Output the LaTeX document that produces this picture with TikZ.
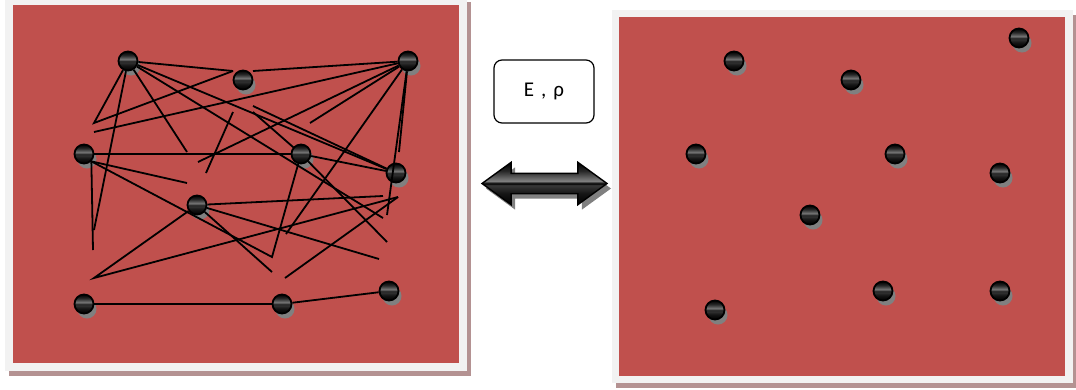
\documentclass[tikz,border=0pt]{standalone}
\usepackage{fontspec}
\setmainfont{Carlito}
\usetikzlibrary{shapes.arrows,shadows}

\definecolor{panelred}{HTML}{C0504D}
\definecolor{framegray}{HTML}{F2F2F2}
\definecolor{panelshadow}{RGB}{180,146,146}

% dark glossy fill: light band above the middle, thin dark line through it
\pgfdeclareverticalshading{glossy}{100bp}{color(0bp)=(black); color(25bp)=(black);
  color(38bp)=(black!92); color(48bp)=(black!78); color(50bp)=(black);
  color(53bp)=(black!50); color(65bp)=(black!85); color(75bp)=(black); color(100bp)=(black)}

\begin{document}
\begin{tikzpicture}[
  x=1pt, y=-1pt,
  frame/.style={fill=framegray, drop shadow={shadow xshift=4pt, shadow yshift=-5pt, fill=panelshadow, opacity=1}},
  ball/.style={circle, draw=black, line width=1.8pt, minimum size=19pt, inner sep=0pt, shading=glossy,
    drop shadow={shadow xshift=3pt, shadow yshift=-5pt, fill=gray, opacity=1}},
  link/.style={line width=1.8pt},
  parbox/.style={draw, rounded corners=8pt, line width=1.2pt, fill=white, minimum width=100pt, minimum height=63pt,
    font={\fontsize{21}{24}\selectfont\spaceskip=7pt\relax}},
  dblarrow/.style={double arrow, draw=black, line width=1.4pt, inner xsep=0pt, inner ysep=9.5pt,
    minimum height=125pt, minimum width=41pt, double arrow head extend=11pt, double arrow tip angle=72,
    shading=glossy, drop shadow={shadow xshift=4pt, shadow yshift=-5pt, fill=gray, opacity=1}}
]
\useasboundingbox (0,0) rectangle (1076,389);

% Panels
\path[frame] (5,-3) rectangle (467,371);
\fill[panelred] (13,5) rectangle (459,363);
\path[frame] (612,10) rectangle (1073,383);
\fill[panelred] (619,17) rectangle (1065,376);

% Bonded particles
\node[ball] (a1) at (128,61) {};
\node[ball] (a2) at (243,80) {};
\node[ball] (a3) at (408,61) {};
\node[ball] (a4) at (84,154) {};
\node[ball] (a5) at (301,154) {};
\node[ball] (a6) at (396,173) {};
\node[ball] (a7) at (197,205) {};
\node[ball] (a8) at (84,304) {};
\node[ball] (a9) at (282,304) {};
\node[ball] (a10) at (389,291) {};

% Free ends of the bonds
\coordinate (p1) at (233,71);
\coordinate (p2) at (253,71);
\coordinate (p4) at (94,123);
\coordinate (p5) at (94,132);
\coordinate (p6) at (94,230);
\coordinate (p7) at (187,152);
\coordinate (p8) at (383,218);
\coordinate (p9) at (253,106);
\coordinate (p10) at (253,112);
\coordinate (p11) at (198,162);
\coordinate (p12) at (310,123);
\coordinate (p13) at (286,234);
\coordinate (p14) at (399,152);
\coordinate (p15) at (387,215);
\coordinate (p16) at (233,112);
\coordinate (p17) at (206,173);
\coordinate (p18) at (187,183);
\coordinate (p19) at (272,257);
\coordinate (p20) at (93,250);
\coordinate (p21) at (387,242);
\coordinate (p22) at (94,278);
\coordinate (p23) at (398,197);
\coordinate (p24) at (383,196);
\coordinate (p25) at (379,259);
\coordinate (p26) at (272,272);
\coordinate (p27) at (285,278);

% Bonds
\draw[link] (a1) -- (p1);
\draw[link] (p2) -- (a3);
\draw[link] (a1) -- (p4) -- (p1);
\draw[link] (p5) -- (a3);
\draw[link] (a1) -- (p6);
\draw[link] (a1) -- (p7);
\draw[link] (a1) -- (p8);
\draw[link] (a1) -- (a6);
\draw[link] (p9) -- (a6);
\draw[link] (p10) -- (a5);
\draw[link] (p11) -- (a3);
\draw[link] (p12) -- (a3);
\draw[link] (a3) -- (p13);
\draw[link] (a3) -- (p14);
\draw[link] (a3) -- (p15);
\draw[link] (p16) -- (p17);
\draw[link] (a4) -- (a5);
\draw[link] (a4.south east) -- (p18);
\draw[link] (a4.south east) -- (p19) -- (a5);
\draw[link] (a4.south east) -- (p20);
\draw[link] (a5) -- (a6);
\draw[link] (a5) -- (p21);
\draw[link] (a7) -- (p22) -- (p23);
\draw[link] (a7) -- (p24);
\draw[link] (a7) -- (p25);
\draw[link] (a7) -- (p26);
\draw[link] (p27) -- (p23);
\draw[link] (a8) -- (a9);
\draw[link] (a9) -- (a10);

% Energy and density
\node[parbox] (param) at (544,91.5) {E , ρ};
\node[dblarrow] (swap) at (544.5,183.5) {};

% Free particles
\node[ball] (b1) at (734,61) {};
\node[ball] (b2) at (851,80) {};
\node[ball] (b3) at (1019,38) {};
\node[ball] (b4) at (696,154) {};
\node[ball] (b5) at (895,154) {};
\node[ball] (b6) at (1000,173) {};
\node[ball] (b7) at (810,215) {};
\node[ball] (b8) at (715,310) {};
\node[ball] (b9) at (883,291) {};
\node[ball] (b10) at (1000,291) {};

\end{tikzpicture}
\end{document}
